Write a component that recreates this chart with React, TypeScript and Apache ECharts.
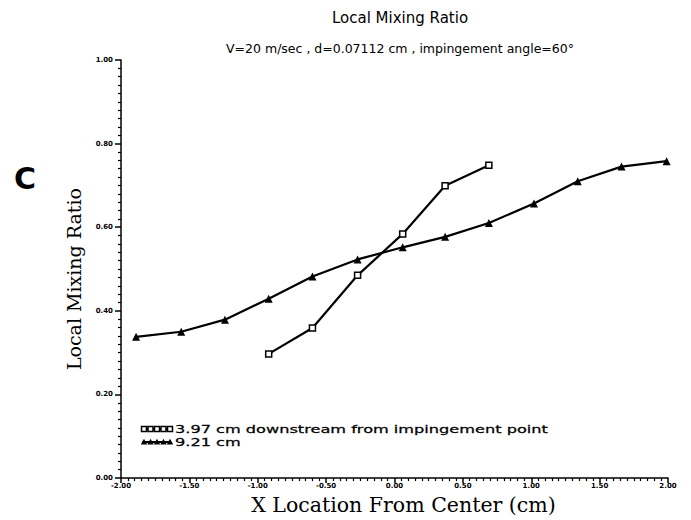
import React, { useEffect, useRef } from "react";
import * as echarts from "echarts";

const xNear = [-0.92, -0.6, -0.27, 0.06, 0.37, 0.69];
const yNear = [0.297, 0.359, 0.485, 0.584, 0.699, 0.748];
const xFar = [-1.89, -1.56, -1.24, -0.92, -0.6, -0.27, 0.06, 0.37, 0.69, 1.02, 1.34, 1.66, 1.99];
const yFar = [0.338, 0.35, 0.379, 0.429, 0.482, 0.523, 0.552, 0.577, 0.61, 0.657, 0.71, 0.745, 0.758];
const seriesNames = ["3.97 cm downstream from impingement point", "9.21 cm"];
const titleText = "Local Mixing Ratio";
const subtitleText = "V=20 m/sec , d=0.07112 cm , impingement angle=60°";

const sansFont = "'DejaVu Sans', sans-serif";
const serifFont = "'DejaVu Serif', serif";

export default function App() {
  const ref = useRef<HTMLDivElement>(null);
  useEffect(() => {
    const chart = echarts.init(ref.current!, null, { renderer: "svg" });
    const legendMarkers = (y: number, kind: "rect" | "tri") => {
      const els: any[] = [
        { type: "line", shape: { x1: 142, y1: y, x2: 171, y2: y }, style: { stroke: "#000", lineWidth: 2 } },
      ];
      for (let i = 0; i < 5; i++) {
        const cx = 144 + i * 6.5;
        if (kind === "rect") {
          els.push({ type: "rect", shape: { x: cx - 2.5, y: y - 2.5, width: 5, height: 5 }, style: { fill: "#fff", stroke: "#000", lineWidth: 1.5 } });
        } else {
          els.push({ type: "polygon", shape: { points: [[cx, y - 3.2], [cx - 3.2, y + 2.4], [cx + 3.2, y + 2.4]] }, style: { fill: "#000" } });
        }
      }
      return els;
    };
    chart.setOption({
      animation: false,
      backgroundColor: "#fff",
      title: [
        { text: titleText, left: 395, top: 5, textAlign: "center", textStyle: { fontFamily: sansFont, fontSize: 15, fontWeight: "normal", color: "#000" } },
        { text: subtitleText, left: 395, top: 37, textAlign: "center", textStyle: { fontFamily: sansFont, fontSize: 12.5, fontWeight: "normal", color: "#000" } },
      ],
      grid: { left: 121, top: 60, width: 547, height: 423, containLabel: false },
      xAxis: {
        type: "value",
        min: -2,
        max: 2,
        interval: 0.5,
        name: "X Location From Center (cm)",
        nameLocation: "middle",
        nameGap: 3,
        nameTextStyle: { fontFamily: serifFont, fontSize: 20.5, color: "#000", fontWeight: "normal", verticalAlign: "top", padding: [0, 0, 0, 18] },
        axisLine: { onZero: false, lineStyle: { color: "#000", width: 1.5 } },
        axisTick: { show: true, inside: false, length: 5, lineStyle: { color: "#000", width: 1.5 } },
        minorTick: { show: true, splitNumber: 10, length: 3, lineStyle: { color: "#000", width: 1.2 } },
        splitLine: { show: false },
        axisLabel: { formatter: (v: number) => v.toFixed(2), fontSize: 7, fontWeight: "bold", color: "#000", margin: 4, fontFamily: sansFont },
      },
      yAxis: {
        type: "value",
        min: 0,
        max: 1,
        interval: 0.2,
        name: titleText,
        nameLocation: "middle",
        nameGap: 38,
        nameTextStyle: { fontFamily: serifFont, fontSize: 19, color: "#000", fontWeight: "normal", padding: [0, 20, 0, 0] },
        axisLine: { onZero: false, lineStyle: { color: "#000", width: 1.5 } },
        axisTick: { show: true, inside: false, length: 6, lineStyle: { color: "#000", width: 1.5 } },
        minorTick: { show: true, splitNumber: 10, length: 3, lineStyle: { color: "#000", width: 1.2 } },
        splitLine: { show: false },
        axisLabel: { formatter: (v: number) => v.toFixed(2), fontSize: 7, fontWeight: "bold", color: "#000", margin: 8, fontFamily: sansFont },
      },
      series: [
        {
          name: seriesNames[0],
          type: "line",
          data: xNear.map((x, i) => [x, yNear[i]]),
          symbol: "rect",
          symbolSize: 6,
          lineStyle: { color: "#000", width: 2.2 },
          itemStyle: { color: "#fff", borderColor: "#000", borderWidth: 1.5 },
          z: 3,
        },
        {
          name: seriesNames[1],
          type: "line",
          data: xFar.map((x, i) => [x, yFar[i]]),
          symbol: "triangle",
          symbolSize: 8,
          lineStyle: { color: "#000", width: 2.2 },
          itemStyle: { color: "#000" },
          z: 2,
        },
      ],
      graphic: [
        { type: "text", left: 14, top: 163, style: { text: "C", font: `bold 30px ${sansFont}`, fill: "#000" } },
        ...legendMarkers(429, "rect"),
        ...legendMarkers(442, "tri"),
        { type: "text", x: 175, y: 429, scaleX: 1.47, style: { text: seriesNames[0], font: `11px ${sansFont}`, fill: "#000", stroke: "#000", lineWidth: 0.25, verticalAlign: "middle" } },
        { type: "text", x: 175, y: 442, scaleX: 1.47, style: { text: seriesNames[1], font: `11px ${sansFont}`, fill: "#000", stroke: "#000", lineWidth: 0.25, verticalAlign: "middle" } },
      ],
    });
    return () => chart.dispose();
  }, []);
  return <div ref={ref} style={{ position: "fixed", left: 0, top: 0, width: 691, height: 520 }} />;
}
